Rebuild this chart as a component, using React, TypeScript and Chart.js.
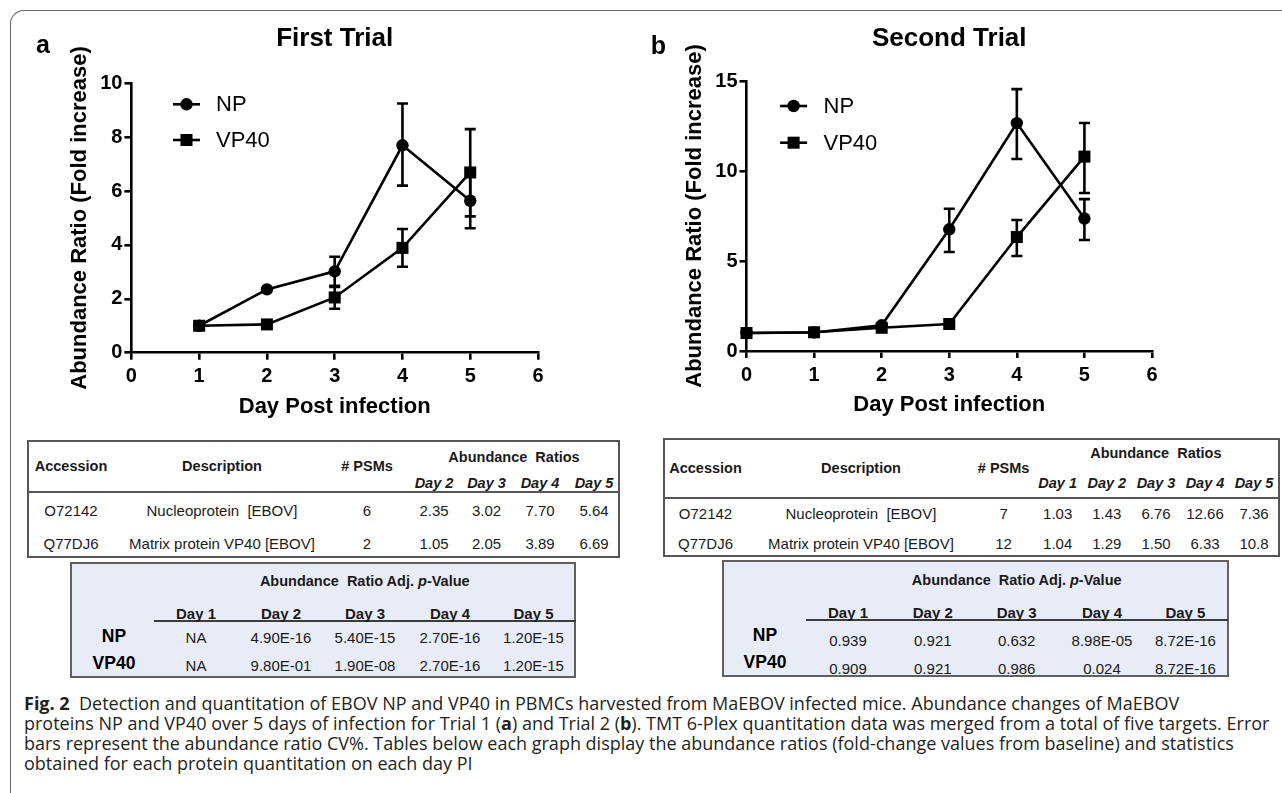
import React, { useEffect, useRef } from 'react';
import { Chart, registerables } from 'chart.js';

Chart.register(...registerables);

const FONT = "'Liberation Sans', Arial, Helvetica, sans-serif";
const CAPTION_FONT = "'Open Sans', 'Noto Sans', sans-serif";

// ---------- chart data ----------
const daysTrial1 = [1, 2, 3, 4, 5];
const npTrial1 = [1, 2.35, 3.02, 7.7, 5.64];
const vp40Trial1 = [1, 1.05, 2.05, 3.89, 6.69];
const npErrLowTrial1 = [null, null, 2.48, 6.2, 4.62];
const npErrHighTrial1 = [null, null, 3.56, 9.25, 6.65];
const vp40ErrLowTrial1 = [null, null, 1.63, 3.19, 5.06];
const vp40ErrHighTrial1 = [null, null, 2.44, 4.59, 8.3];

const daysTrial2 = [0, 1, 2, 3, 4, 5];
const npTrial2 = [1, 1.03, 1.43, 6.76, 12.66, 7.36];
const vp40Trial2 = [1, 1.04, 1.29, 1.5, 6.33, 10.8];
const npErrLowTrial2 = [null, null, null, 5.5, 10.67, 6.17];
const npErrHighTrial2 = [null, null, null, 7.9, 14.55, 8.44];
const vp40ErrLowTrial2 = [null, null, null, null, 5.28, 8.78];
const vp40ErrHighTrial2 = [null, null, null, null, 7.28, 12.67];

const seriesLabels = ['NP', 'VP40'];

// ---------- table data ----------
const tableHeaders = ['Accession', 'Description', '# PSMs'];
const accessions = ['O72142', 'Q77DJ6'];
const descriptions = ['Nucleoprotein  [EBOV]', 'Matrix protein VP40 [EBOV]'];
const psmsTrial1 = ['6', '2'];
const psmsTrial2 = ['7', '12'];
const ratioDaysTrial1 = ['Day 2', 'Day 3', 'Day 4', 'Day 5'];
const ratioDaysTrial2 = ['Day 1', 'Day 2', 'Day 3', 'Day 4', 'Day 5'];
const npRatiosTrial1 = ['2.35', '3.02', '7.70', '5.64'];
const vp40RatiosTrial1 = ['1.05', '2.05', '3.89', '6.69'];
const npRatiosTrial2 = ['1.03', '1.43', '6.76', '12.66', '7.36'];
const vp40RatiosTrial2 = ['1.04', '1.29', '1.50', '6.33', '10.8'];
const pDays = ['Day 1', 'Day 2', 'Day 3', 'Day 4', 'Day 5'];
const npPTrial1 = ['NA', '4.90E-16', '5.40E-15', '2.70E-16', '1.20E-15'];
const vp40PTrial1 = ['NA', '9.80E-01', '1.90E-08', '2.70E-16', '1.20E-15'];
const npPTrial2 = ['0.939', '0.921', '0.632', '8.98E-05', '8.72E-16'];
const vp40PTrial2 = ['0.909', '0.921', '0.986', '0.024', '8.72E-16'];

// ---------- plugins ----------
const errorBarPlugin = {
  id: 'errorBars',
  afterDatasetsDraw(chart: any) {
    const { ctx } = chart;
    const xs = chart.scales.x;
    const ys = chart.scales.y;
    chart.data.datasets.forEach((ds: any) => {
      const lows = ds.errLow;
      const highs = ds.errHigh;
      if (!lows) return;
      ds.data.forEach((pt: any, i: number) => {
        if (lows[i] == null || highs[i] == null) return;
        const px = xs.getPixelForValue(pt.x);
        const yl = ys.getPixelForValue(lows[i]);
        const yh = ys.getPixelForValue(highs[i]);
        ctx.save();
        ctx.strokeStyle = '#000';
        ctx.lineWidth = 2.6;
        ctx.beginPath();
        ctx.moveTo(px, yl);
        ctx.lineTo(px, yh);
        ctx.moveTo(px - 5.5, yl);
        ctx.lineTo(px + 5.5, yl);
        ctx.moveTo(px - 5.5, yh);
        ctx.lineTo(px + 5.5, yh);
        ctx.stroke();
        ctx.restore();
      });
    });
  },
};

const legendPlugin = {
  id: 'customLegend',
  afterDraw(chart: any, _args: any, opts: any) {
    const { ctx } = chart;
    chart.data.datasets.forEach((ds: any, i: number) => {
      const y = opts.ys[i];
      const cx = opts.x;
      ctx.save();
      ctx.strokeStyle = '#000';
      ctx.fillStyle = '#000';
      ctx.lineWidth = 2.6;
      ctx.beginPath();
      ctx.moveTo(cx - opts.half, y);
      ctx.lineTo(cx + opts.half, y);
      ctx.stroke();
      if (ds.pointStyle === 'rect') {
        const s = ds.pointRadius * Math.SQRT1_2;
        ctx.fillRect(cx - s, y - s, 2 * s, 2 * s);
      } else {
        ctx.beginPath();
        ctx.arc(cx, y, ds.pointRadius, 0, Math.PI * 2);
        ctx.fill();
      }
      ctx.font = `22px ${FONT}`;
      ctx.textBaseline = 'middle';
      ctx.textAlign = 'left';
      ctx.fillText(ds.label, opts.textX, y + 1);
      ctx.restore();
    });
  },
};

const panelLabelPlugin = {
  id: 'panelLabel',
  afterDraw(chart: any, _args: any, opts: any) {
    const { ctx } = chart;
    ctx.save();
    ctx.fillStyle = '#000';
    ctx.font = `bold 25px ${FONT}`;
    ctx.textAlign = 'center';
    ctx.textBaseline = 'alphabetic';
    ctx.fillText(opts.text, opts.x, opts.y);
    ctx.restore();
  },
};

type ChartProps = {
  days: number[];
  np: number[];
  vp: number[];
  npLow: (number | null)[];
  npHigh: (number | null)[];
  vpLow: (number | null)[];
  vpHigh: (number | null)[];
  yMax: number;
  yStep: number;
  title: string;
  panel: string;
  left: number;
  width: number;
  height: number;
  g: any;
};

function TrialChart(p: ChartProps) {
  const ref = useRef<HTMLCanvasElement | null>(null);
  useEffect(() => {
    if (!ref.current) return;
    const g = p.g;
    const tickFont = { family: FONT, size: 20, weight: 'bold' as const };
    const titleFont = { family: FONT, size: 22, weight: 'bold' as const };
    const chart = new Chart(ref.current, {
      type: 'line',
      data: {
        datasets: [
          {
            label: seriesLabels[0],
            data: p.days.map((d, i) => ({ x: d, y: p.np[i] })),
            borderColor: '#000',
            backgroundColor: '#000',
            borderWidth: 2.6,
            pointStyle: 'circle',
            pointRadius: 6.2,
            pointBorderWidth: 0,
            pointBackgroundColor: '#000',
            tension: 0,
            clip: false,
            errLow: p.npLow,
            errHigh: p.npHigh,
          } as any,
          {
            label: seriesLabels[1],
            data: p.days.map((d, i) => ({ x: d, y: p.vp[i] })),
            borderColor: '#000',
            backgroundColor: '#000',
            borderWidth: 2.6,
            pointStyle: 'rect',
            pointRadius: 8.5,
            pointBorderWidth: 0,
            pointBackgroundColor: '#000',
            tension: 0,
            clip: false,
            errLow: p.vpLow,
            errHigh: p.vpHigh,
          } as any,
        ],
      },
      options: {
        responsive: false,
        animation: false,
        events: [],
        layout: { padding: { left: 0, right: g.padRight, top: 0, bottom: g.padBottom } },
        plugins: {
          legend: { display: false },
          tooltip: { enabled: false },
          title: {
            display: true,
            text: p.title,
            fullSize: false,
            color: '#000',
            font: { family: FONT, size: 26, weight: 'bold', lineHeight: 1.2 },
            padding: { top: g.titlePadTop, bottom: g.titlePadBottom },
          },
          customLegend: { x: g.legX, half: 13.5, textX: g.legTextX, ys: g.legYs },
          panelLabel: { text: p.panel, x: g.panelX, y: g.panelY },
        } as any,
        scales: {
          x: {
            type: 'linear',
            min: 0,
            max: 6,
            ticks: { stepSize: 1, color: '#000', font: tickFont, padding: g.xTickPad },
            grid: { drawOnChartArea: false, drawTicks: true, tickLength: 7, color: '#000', lineWidth: 2.6 },
            border: { display: true, color: '#000', width: 2.6 },
            title: {
              display: true,
              text: 'Day Post infection',
              color: '#000',
              font: titleFont,
              padding: { top: 0, bottom: g.xTitlePadBottom },
            },
            afterFit: (s: any) => {
              s.height = g.xHeight;
            },
          },
          y: {
            type: 'linear',
            min: 0,
            max: p.yMax,
            ticks: { stepSize: p.yStep, color: '#000', font: tickFont, padding: 2 },
            grid: { drawOnChartArea: false, drawTicks: true, tickLength: 7, color: '#000', lineWidth: 2.6 },
            border: { display: true, color: '#000', width: 2.6 },
            title: {
              display: true,
              text: 'Abundance Ratio (Fold increase)',
              color: '#000',
              font: titleFont,
              padding: { top: g.yTitlePadTop, bottom: 0 },
            },
            afterFit: (s: any) => {
              s.width = g.yWidth;
            },
          },
        },
      },
      plugins: [errorBarPlugin, legendPlugin, panelLabelPlugin],
    });
    return () => chart.destroy();
  }, []);
  return (
    <canvas
      ref={ref}
      width={p.width}
      height={p.height}
      style={{ position: 'absolute', left: p.left, top: 0, width: p.width, height: p.height }}
    />
  );
}

function Txt(props: { x: number; y: number; children: any; style?: any }) {
  return (
    <div
      style={{
        position: 'absolute',
        left: props.x,
        top: props.y,
        transform: 'translate(-50%, -50%)',
        whiteSpace: 'pre',
        lineHeight: 1,
        fontFamily: FONT,
        fontSize: 15,
        color: '#1a1a1a',
        ...props.style,
      }}
    >
      {props.children}
    </div>
  );
}

const hdr = { fontWeight: 'bold', fontSize: 14.5 };

function RatioTable(t: {
  box: [number, number, number, number];
  sepY: number;
  hdrY: number;
  arY: number;
  dayY: number;
  rowYs: number[];
  colX: number[];
  dayX: number[];
  days: string[];
  psms: string[];
  np: string[];
  vp: string[];
}) {
  const [l, tp, r, b] = t.box;
  return (
    <>
      <div
        style={{
          position: 'absolute',
          left: l,
          top: tp,
          width: r - l,
          height: b - tp,
          border: '2px solid #555',
          boxSizing: 'border-box',
          background: '#fff',
        }}
      />
      <div style={{ position: 'absolute', left: l, top: t.sepY - 1, width: r - l, height: 2, background: '#555' }} />
      {tableHeaders.map((h, i) => (
        <Txt key={h} x={t.colX[i]} y={t.hdrY} style={hdr}>
          {h}
        </Txt>
      ))}
      <Txt x={(t.dayX[0] + t.dayX[t.dayX.length - 1]) / 2} y={t.arY} style={hdr}>
        {'Abundance  Ratios'}
      </Txt>
      {t.days.map((d, i) => (
        <Txt key={d} x={t.dayX[i]} y={t.dayY} style={{ ...hdr, fontStyle: 'italic' }}>
          {d}
        </Txt>
      ))}
      {[0, 1].map((ri) => (
        <React.Fragment key={ri}>
          <Txt x={t.colX[0]} y={t.rowYs[ri]}>
            {accessions[ri]}
          </Txt>
          <Txt x={t.colX[1]} y={t.rowYs[ri]}>
            {descriptions[ri]}
          </Txt>
          <Txt x={t.colX[2]} y={t.rowYs[ri]}>
            {t.psms[ri]}
          </Txt>
          {(ri === 0 ? t.np : t.vp).map((v, i) => (
            <Txt key={i} x={t.dayX[i]} y={t.rowYs[ri]}>
              {v}
            </Txt>
          ))}
        </React.Fragment>
      ))}
    </>
  );
}

function PTable(t: {
  box: [number, number, number, number];
  titleY: number;
  dayY: number;
  lineX: number;
  lineY: number;
  labelX: number;
  labelYs: number[];
  valYs: number[];
  dayX: number[];
  np: string[];
  vp: string[];
}) {
  const [l, tp, r, b] = t.box;
  return (
    <>
      <div
        style={{
          position: 'absolute',
          left: l,
          top: tp,
          width: r - l,
          height: b - tp,
          border: '2px solid #606060',
          boxSizing: 'border-box',
          background: '#e8ecf6',
        }}
      />
      <div style={{ position: 'absolute', left: t.lineX, top: t.lineY - 1, width: r - t.lineX, height: 2, background: '#3c3c3c' }} />
      <Txt x={(t.dayX[0] + t.dayX[4]) / 2} y={t.titleY} style={hdr}>
        <span>{'Abundance  Ratio Adj. '}</span>
        <i>p</i>
        <span>-Value</span>
      </Txt>
      {pDays.map((d, i) => (
        <Txt key={d} x={t.dayX[i]} y={t.dayY} style={{ fontWeight: 'bold', fontSize: 15 }}>
          {d}
        </Txt>
      ))}
      {seriesLabels.map((s, ri) => (
        <React.Fragment key={s}>
          <Txt x={t.labelX} y={t.labelYs[ri]} style={{ fontWeight: 'bold', fontSize: 17.5, color: '#000' }}>
            {s}
          </Txt>
          {(ri === 0 ? t.np : t.vp).map((v, i) => (
            <Txt key={i} x={t.dayX[i]} y={t.valYs[ri]}>
              {v}
            </Txt>
          ))}
        </React.Fragment>
      ))}
    </>
  );
}

const capLine = {
  position: 'absolute' as const,
  left: 24,
  whiteSpace: 'pre' as const,
  fontFamily: CAPTION_FONT,
  fontSize: 18,
  lineHeight: '20px',
  color: '#231f20',
};

export default function App() {
  return (
    <div
      style={{
        position: 'absolute',
        left: 0,
        top: 0,
        width: 1282,
        height: 793,
        overflow: 'hidden',
        background: '#fff',
      }}
    >
      <div
        style={{
          position: 'absolute',
          left: 10,
          top: 10,
          width: 1400,
          height: 900,
          borderTop: '1.5px solid #666',
          borderLeft: '1.5px solid #666',
          borderTopLeftRadius: 14,
        }}
      />
      <TrialChart
        days={daysTrial1}
        np={npTrial1}
        vp={vp40Trial1}
        npLow={npErrLowTrial1}
        npHigh={npErrHighTrial1}
        vpLow={vp40ErrLowTrial1}
        vpHigh={vp40ErrHighTrial1}
        yMax={10}
        yStep={2}
        title="First Trial"
        panel="a"
        left={0}
        width={640}
        height={430}
        g={{
          padRight: 102,
          padBottom: 7.3,
          titlePadTop: 23.7,
          titlePadBottom: 28.4,
          xTickPad: 4.3,
          xTitlePadBottom: 2.5,
          xHeight: 70,
          yTitlePadTop: 66.4,
          yWidth: 131.4,
          legX: 186.5,
          legTextX: 216,
          legYs: [104.3, 140],
          panelX: 43,
          panelY: 53,
        }}
      />
      <TrialChart
        days={daysTrial2}
        np={npTrial2}
        vp={vp40Trial2}
        npLow={npErrLowTrial2}
        npHigh={npErrHighTrial2}
        vpLow={vp40ErrLowTrial2}
        vpHigh={vp40ErrHighTrial2}
        yMax={15}
        yStep={5}
        title="Second Trial"
        panel="b"
        left={640}
        width={642}
        height={430}
        g={{
          padRight: 130,
          padBottom: 9,
          titlePadTop: 23.7,
          titlePadBottom: 26.1,
          xTickPad: 5,
          xTitlePadBottom: 2.8,
          xHeight: 70,
          yTitlePadTop: 42.1,
          yWidth: 106.5,
          legX: 153.6,
          legTextX: 183.5,
          legYs: [106, 142.7],
          panelX: 18.4,
          panelY: 53.5,
        }}
      />

      <RatioTable
        box={[26.5, 440, 620, 557.7]}
        sepY={492}
        hdrY={466}
        arY={457}
        dayY={483}
        rowYs={[510, 543]}
        colX={[71, 222, 367]}
        dayX={[434, 486.5, 540, 594]}
        days={ratioDaysTrial1}
        psms={psmsTrial1}
        np={npRatiosTrial1}
        vp={vp40RatiosTrial1}
      />
      <PTable
        box={[70, 561.7, 576, 677.7]}
        titleY={581}
        dayY={612.7}
        lineX={154}
        lineY={621}
        labelX={114}
        labelYs={[636.7, 664.3]}
        valYs={[637, 664.5]}
        dayX={[196, 281, 365, 450, 533.5]}
        np={npPTrial1}
        vp={vp40PTrial1}
      />
      <RatioTable
        box={[662.5, 438.3, 1279.6, 556.7]}
        sepY={498.3}
        hdrY={468.3}
        arY={453.3}
        dayY={483.3}
        rowYs={[513.3, 543.3]}
        colX={[705.5, 861, 1003.6]}
        dayX={[1057.7, 1106.8, 1156, 1205, 1254]}
        days={ratioDaysTrial2}
        psms={psmsTrial2}
        np={npRatiosTrial2}
        vp={vp40RatiosTrial2}
      />
      <PTable
        box={[722, 560, 1228.5, 676.7]}
        titleY={580}
        dayY={612}
        lineX={805.8}
        lineY={620}
        labelX={765}
        labelYs={[635.7, 663.3]}
        valYs={[640, 667.7]}
        dayX={[848, 932.8, 1016.7, 1102, 1185.4]}
        np={npPTrial2}
        vp={vp40PTrial2}
      />

      <div style={{ ...capLine, top: 693 }}>
        <b style={{ fontWeight: 700, color: '#231f20' }}>Fig. 2</b>
        {'  Detection and quantitation of EBOV NP and VP40 in PBMCs harvested from MaEBOV infected mice. Abundance changes of MaEBOV'}
      </div>
      <div style={{ ...capLine, top: 713 }}>
        {'proteins NP and VP40 over 5 days of infection for Trial 1 ('}
        <b>a</b>
        {') and Trial 2 ('}
        <b>b</b>
        {'). TMT 6-Plex quantitation data was merged from a total of five targets. Error'}
      </div>
      <div style={{ ...capLine, top: 733 }}>
        {'bars represent the abundance ratio CV%. Tables below each graph display the abundance ratios (fold-change values from baseline) and statistics'}
      </div>
      <div style={{ ...capLine, top: 753 }}>{'obtained for each protein quantitation on each day PI'}</div>
    </div>
  );
}
